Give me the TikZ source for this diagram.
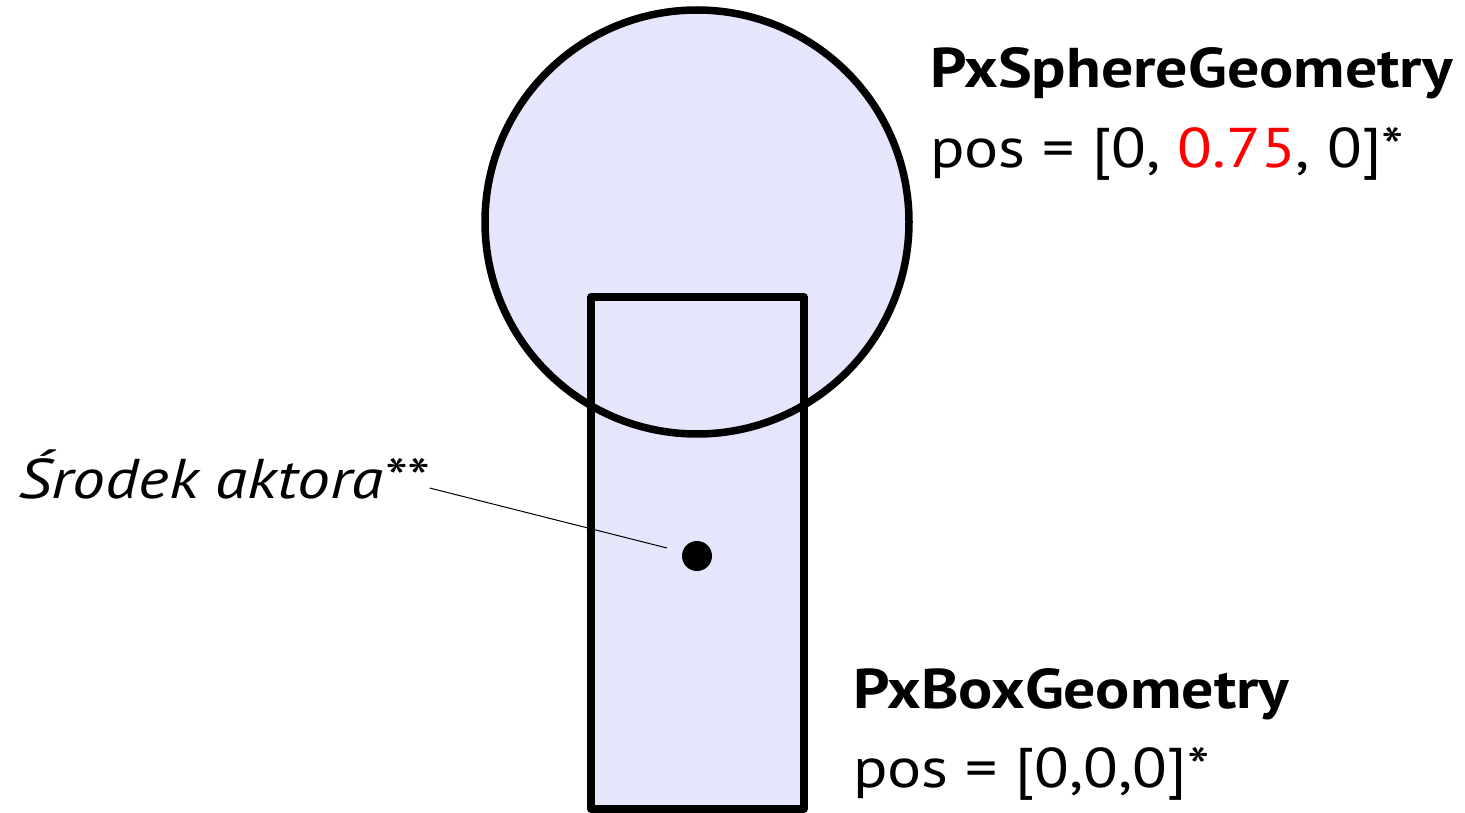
\documentclass[tikz,border=0pt]{standalone}
\usepackage{fontspec}
\setmainfont{PT Sans}[FakeStretch=1.14]
\newfontfamily\italfont{PT Sans}[FakeStretch=1.17]
\definecolor{lav}{RGB}{229,229,251}
\definecolor{red75}{RGB}{255,0,0}
\begin{document}
\begin{tikzpicture}[x=1pt,y=-1pt,
  shape outline/.style={line width=7.5pt,line join=round},
  label text/.style={anchor=base west,inner sep=0pt,font=\fontsize{56}{60}\selectfont},
  title text/.style={label text,font=\fontsize{56}{60}\selectfont\bfseries}]
\useasboundingbox (0,0) rectangle (1465,813);
% fills
\fill[lav] (697,222) circle (212);
\fill[lav] (591,297) rectangle (804,809);
% outlines
\draw[shape outline] (697,222) circle (212);
\draw[shape outline] (591,297) rectangle (804,809);
% actor center
\node[circle,fill=black,minimum size=30pt,inner sep=0pt] (dot) at (697,556) {};
\coordinate (lineend) at (667,548);
% labels
\node[title text] (sphere) at (930,88) {PxSphereGeometry};
\node[label text] (spherepos) at (930,168) {pos = [0, \textcolor{red75}{0.75}, 0]*};
\node[label text,font=\fontsize{56}{60}\selectfont\italfont\itshape] (center) at (18,498) {Środek aktora**};
\node[title text] (box) at (853,708) {PxBoxGeometry};
\node[label text] (boxpos) at (853,787) {pos = [0,0,0]*};
\draw[line width=1pt] (center.base east) ++(2,-10) coordinate (lstart) -- (lineend);
\end{tikzpicture}
\end{document}
